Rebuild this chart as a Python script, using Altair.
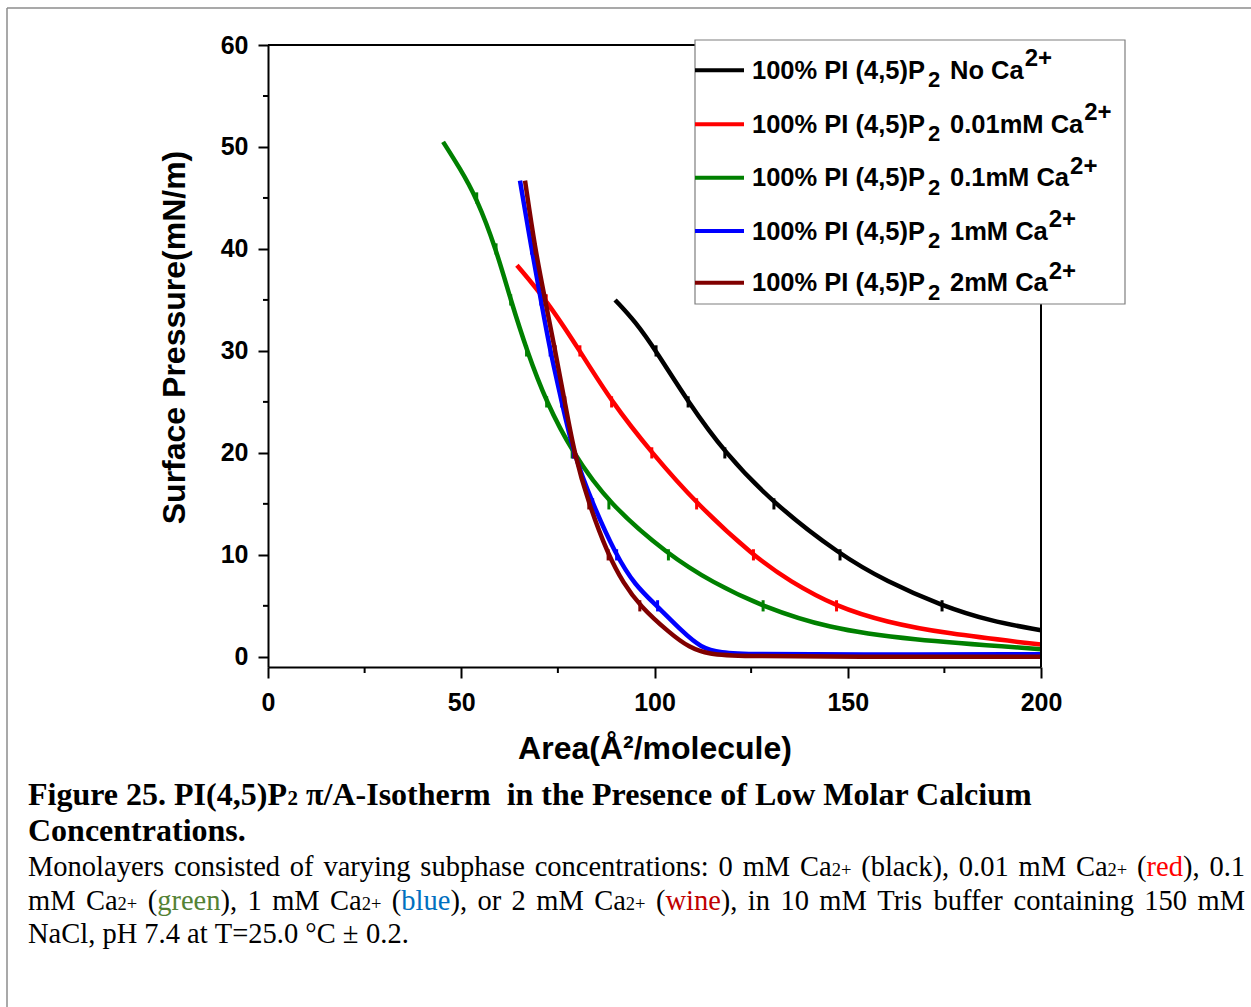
import altair as alt
import pandas as pd

# ---------------- data ----------------
black_area = [89.8, 95.0, 100.4, 108.7, 118.2, 130.9, 148.0, 160.0, 174.4, 187.0, 200.0]
black_pi = [35.0, 32.9, 30.0, 25.0, 20.0, 15.0, 10.0, 7.4, 5.0, 3.5, 2.6]

red_area = [64.4, 72.0, 80.7, 88.9, 99.3, 110.9, 125.6, 135.0, 147.1, 160.0, 175.0, 200.0]
red_pi = [38.4, 35.0, 30.0, 25.0, 20.0, 15.0, 9.9, 7.4, 4.9, 3.4, 2.3, 1.2]

green_area = [45.3, 49.5, 54.0, 59.0, 62.8, 66.9, 72.1, 78.7, 88.2, 103.6, 115.0, 128.1, 145.0, 165.0, 200.0]
green_pi = [50.5, 48.0, 45.0, 40.0, 35.0, 30.1, 24.9, 20.1, 15.0, 10.0, 7.3, 4.9, 2.8, 1.7, 0.75]

blue_area = [65.2, 68.2, 70.6, 73.0, 76.0, 79.0, 84.0, 90.0, 95.0, 100.6, 107.4, 112.0, 117.0, 125.0, 150.0, 200.0]
blue_pi = [46.7, 40.0, 35.0, 30.0, 25.0, 20.0, 15.0, 10.0, 7.0, 5.0, 2.4, 0.9, 0.4, 0.25, 0.2, 0.25]

wine_area = [66.5, 69.1, 71.7, 74.3, 76.8, 79.2, 83.0, 88.0, 92.0, 96.2, 104.0, 109.0, 114.0, 122.0, 150.0, 200.0]
wine_pi = [46.7, 40.0, 35.0, 30.0, 25.0, 20.0, 15.0, 10.0, 7.2, 5.0, 2.3, 0.9, 0.25, 0.05, 0.0, 0.0]

# error-bar positions
black_err_area = [100.4, 108.7, 118.2, 130.9, 148.0, 174.4]
black_err_pi = [30, 25, 20, 15, 10, 5]
red_err_area = [72.0, 80.7, 88.9, 99.3, 110.9, 125.6, 147.1]
red_err_pi = [35, 30, 25, 20, 15, 10, 5]
green_err_area = [54.0, 59.0, 62.8, 66.9, 72.1, 78.7, 88.2, 103.6, 128.1]
green_err_pi = [45, 40, 35, 30, 25, 20, 15, 10, 5]
blue_err_area = [68.2, 70.6, 73.0, 76.0, 79.0, 84.0, 90.2, 100.8]
blue_err_pi = [40, 35, 30, 25, 20, 15, 10, 5]
wine_err_area = [69.1, 71.7, 74.3, 76.8, 79.2, 83.0, 88.0, 96.2]
wine_err_pi = [40, 35, 30, 25, 20, 15, 10, 5]
err_half = 0.55

legend_conc = ["No", "0.01mM", "0.1mM", "1mM", "2mM"]
series_colors = ["#000000", "#ff0000", "#008000", "#0000ff", "#800000"]

x_major = [0, 50, 100, 150, 200]
x_minor = [25, 75, 125, 175]
y_major = [0, 10, 20, 30, 40, 50, 60]
y_minor = [5, 15, 25, 35, 45, 55]

# ---------------- layout ----------------
W, H = 773, 622
LEFT, TOP = 268, 45
PAD_R, PAD_B = 1251 - LEFT - W, 1007 - TOP - H

xs = alt.Scale(domain=[0, 200], nice=False, zero=False)
ys = alt.Scale(domain=[-1, 60], nice=False, zero=False)

x_axis = alt.Axis(
    values=x_major, tickSize=11, format="d",
    labelPadding=12, labelFlush=False, labelOverlap=False, grid=False,
    title="Area(Å²/molecule)", titleX=W / 2, titleY=91, titleBaseline="alphabetic",
    titleAlign="center",
)
y_axis = alt.Axis(
    values=y_major, tickSize=10, format="d",
    labelPadding=10, labelFlush=False, labelOverlap=False, grid=False,
    title="Surface Pressure(mN/m)", titleX=-84, titleY=292, titleAngle=-90,
    titleBaseline="alphabetic", titleAlign="center",
)


def X(field):
    return alt.X(field, scale=xs, axis=x_axis)


def Y(field):
    return alt.Y(field, scale=ys, axis=y_axis)


series = [
    (black_area, black_pi, black_err_area, black_err_pi),
    (red_area, red_pi, red_err_area, red_err_pi),
    (green_area, green_pi, green_err_area, green_err_pi),
    (blue_area, blue_pi, blue_err_area, blue_err_pi),
    (wine_area, wine_pi, wine_err_area, wine_err_pi),
]

layers = []
for i, (a, p, ea, ep) in enumerate(series):
    col = series_colors[i]
    d = pd.DataFrame({"area": a, "pressure": p})
    layers.append(
        alt.Chart(d).mark_line(color=col, strokeWidth=4.5, interpolate="basis")
        .encode(x=X("area:Q"), y=Y("pressure:Q"), order="area:Q")
    )
    de = pd.DataFrame({"area": ea, "pressure": ep})
    layers.append(
        alt.Chart(de).transform_calculate(
            lo=f"datum.pressure - {err_half}", hi=f"datum.pressure + {err_half}"
        ).mark_rule(color=col, strokeWidth=3)
        .encode(x=X("area:Q"), y=Y("lo:Q"), y2="hi:Q")
    )

# minor ticks on both axes
layers.append(alt.Chart(pd.DataFrame({"area": x_minor})).mark_rule(color="black", strokeWidth=2).encode(
    x=X("area:Q"), y=alt.value(H), y2=alt.value(H + 6)))
layers.append(alt.Chart(pd.DataFrame({"pressure": y_minor})).mark_rule(color="black", strokeWidth=2).encode(
    y=Y("pressure:Q"), x=alt.value(-5), x2=alt.value(0)))

# top and right frame of the plot
layers.append(alt.Chart(pd.DataFrame({"area": [0], "area2": [200], "pressure": [60]}))
              .mark_rule(color="black", strokeWidth=2)
              .encode(x=X("area:Q"), x2="area2:Q", y=Y("pressure:Q")))
layers.append(alt.Chart(pd.DataFrame({"area": [200], "pressure": [-1], "pressure2": [60]}))
              .mark_rule(color="black", strokeWidth=2)
              .encode(x=X("area:Q"), y=Y("pressure:Q"), y2="pressure2:Q"))

# legend box
box = pd.DataFrame({"px": [695 - LEFT], "px2": [1125 - LEFT], "py": [40 - TOP], "py2": [304 - TOP]})
layers.append(alt.Chart(box).mark_rect(fill="white", stroke="#7f7f7f", strokeWidth=1.2).encode(
    x=alt.X("px:Q", scale=None, axis=None), x2="px2:Q",
    y=alt.Y("py:Q", scale=None, axis=None), y2="py2:Q"))

# line segments (legend samples, outer frame)
leg_base = [78.8, 132.8, 186.2, 239.5, 291.2]
segs = []
for i, b in enumerate(leg_base):
    segs.append(dict(px=695 - LEFT, px2=744 - LEFT, py=b - 8.5 - TOP, py2=b - 8.5 - TOP, c=series_colors[i], w=4))
segs.append(dict(px=7 - LEFT, px2=7 - LEFT, py=8 - TOP, py2=1007 - TOP, c="#8c8c8c", w=1.5))
segs.append(dict(px=7 - LEFT, px2=1251 - LEFT, py=8 - TOP, py2=8 - TOP, c="#8c8c8c", w=1.5))
layers.append(alt.Chart(pd.DataFrame(segs)).mark_rule().encode(
    x=alt.X("px:Q", scale=None, axis=None), x2="px2:Q",
    y=alt.Y("py:Q", scale=None, axis=None), y2="py2:Q",
    color=alt.Color("c:N", scale=None, legend=None),
    strokeWidth=alt.StrokeWidth("w:Q", scale=None, legend=None)))

# ---------- text helpers ----------
HB = {" ": 278, ".": 278, "0": 556, "1": 556, "2": 556, "m": 889, "M": 833, "N": 722, "o": 611, "C": 722, "a": 556}
TR = {" ": 250, "(": 333, ")": 333, ",": 250, ".": 250, ":": 278, "=": 564, "°": 400, "±": 564, "+": 564,
      "-": 333, "/": 278,
      "a": 444, "b": 500, "c": 444, "d": 500, "e": 444, "f": 333, "g": 500, "h": 500, "i": 278, "j": 278,
      "k": 500, "l": 278, "m": 778, "n": 500, "o": 500, "p": 500, "q": 500, "r": 333, "s": 389, "t": 278,
      "u": 500, "v": 500, "w": 722, "x": 500, "y": 500, "z": 444,
      "C": 667, "H": 722, "M": 889, "N": 722, "T": 611}
TB = {" ": 250, "(": 333, ")": 333, ",": 250, ".": 250, ":": 333, "-": 333, "/": 278, "π": 549,
      "a": 500, "b": 556, "c": 444, "d": 556, "e": 444, "f": 333, "g": 500, "h": 556, "i": 278, "j": 333,
      "k": 556, "l": 278, "m": 833, "n": 556, "o": 500, "p": 556, "q": 556, "r": 444, "s": 389, "t": 333,
      "u": 556, "v": 500, "w": 722, "x": 500, "y": 500, "z": 444,
      "A": 722, "C": 722, "F": 611, "I": 389, "L": 667, "M": 944, "P": 611}


def tw(s, table, size):
    return sum(table.get(ch, 500) for ch in s) * size / 1000.0


# legend text (Arial-like bold)
LS, LSUB, LSUP = 25.5, 22, 24
leg_rows = []
for i, b in enumerate(leg_base):
    leg_rows.append(dict(px=752 - LEFT, py=b - TOP, t="100% PI (4,5)P", s=LS, c="black"))
    leg_rows.append(dict(px=928 - LEFT, py=b + 8.5 - TOP, t="2", s=LSUB, c="black"))
    main2 = legend_conc[i] + " Ca"
    leg_rows.append(dict(px=950 - LEFT, py=b - TOP, t=main2, s=LS, c="black"))
    leg_rows.append(dict(px=950 + tw(main2, HB, LS) + 1 - LEFT, py=b - 12.5 - TOP, t="2+", s=LSUP, c="black"))


def text_layer(rows, font, weight):
    return alt.Chart(pd.DataFrame(rows)).mark_text(
        font=font, fontWeight=weight, align="left", baseline="alphabetic"
    ).encode(
        x=alt.X("px:Q", scale=None, axis=None),
        y=alt.Y("py:Q", scale=None, axis=None),
        text="t:N",
        size=alt.Size("s:Q", scale=None, legend=None),
        color=alt.Color("c:N", scale=None, legend=None),
    )


# caption, bold heading
B, BS = 32, 21
bold_rows = []
x0 = 28
segA = "Figure 25. PI(4,5)P"
bold_rows.append(dict(px=x0 - LEFT, py=805 - TOP, t=segA, s=B, c="black"))
xx = x0 + tw(segA, TB, B)
bold_rows.append(dict(px=xx - LEFT, py=805 - TOP, t="2", s=BS, c="black"))
xx += 500 * BS / 1000 + tw(" ", TB, B)
segB = "π/A-Isotherm"
bold_rows.append(dict(px=xx - LEFT, py=805 - TOP, t=segB, s=B, c="black"))
xx += tw(segB + "  ", TB, B)
bold_rows.append(dict(px=xx - LEFT, py=805 - TOP, t="in the Presence of Low Molar Calcium", s=B, c="black"))
bold_rows.append(dict(px=x0 - LEFT, py=841 - TOP, t="Concentrations.", s=B, c="black"))

# caption, regular body (justified lines)
R, RS = 28.5, 18.5
RED, GREEN, BLUE, WINE = "#ff0000", "#548235", "#0070c0", "#c00000"
line3 = [["Monolayers"], ["consisted"], ["of"], ["varying"], ["subphase"], ["concentrations:"], ["0"], ["mM"],
         ["Ca", ("2+", "small")], ["(black),"], ["0.01"], ["mM"], ["Ca", ("2+", "small")],
         ["(", ("red", RED), "),"], ["0.1"]]
line4 = [["mM"], ["Ca", ("2+", "small")], ["(", ("green", GREEN), "),"], ["1"], ["mM"], ["Ca", ("2+", "small")],
         ["(", ("blue", BLUE), "),"], ["or"], ["2"], ["mM"], ["Ca", ("2+", "small")], ["(", ("wine", WINE), "),"],
         ["in"], ["10"], ["mM"], ["Tris"], ["buffer"], ["containing"], ["150"], ["mM"]]
line5 = [["NaCl,"], ["pH"], ["7.4"], ["at"], ["T=25.0"], ["°C"], ["±"], ["0.2."]]


def piece_info(p):
    if isinstance(p, tuple):
        t, st = p
        if st == "small":
            return t, RS, "black"
        return t, R, st
    return p, R, "black"


reg_rows = []


def layout(words, base, justify):
    widths = []
    for w in words:
        widths.append(sum(tw(piece_info(p)[0], TR, piece_info(p)[1]) for p in w))
    if justify:
        gap = (1245 - 28 - sum(widths)) / (len(words) - 1)
    else:
        gap = tw(" ", TR, R)
    x = 28
    for w, wd in zip(words, widths):
        px = x
        for p in w:
            t, s, c = piece_info(p)
            reg_rows.append(dict(px=px - LEFT, py=base - TOP, t=t, s=s, c=c))
            px += tw(t, TR, s)
        x += wd + gap


layout(line3, 876, True)
layout(line4, 910, True)
layout(line5, 943, False)

layers.append(text_layer(leg_rows, "Liberation Sans", "bold"))
layers.append(text_layer(bold_rows, "Liberation Serif", "bold"))
layers.append(text_layer(reg_rows, "Liberation Serif", "normal"))

chart = alt.layer(*layers).properties(
    width=W, height=H,
    autosize=alt.AutoSizeParams(type="none"),
    padding={"left": LEFT, "top": TOP, "right": PAD_R, "bottom": PAD_B},
    background="white",
).configure_view(stroke=None).configure_axis(
    domainColor="black", domainWidth=2, tickColor="black", tickWidth=2,
    labelFont="Liberation Sans", labelFontSize=25, labelFontWeight="bold", labelColor="black",
    titleFont="Liberation Sans", titleFontSize=32, titleFontWeight="bold", titleColor="black",
)

chart.save("out.html", embed_options={"renderer": "svg", "actions": False})
